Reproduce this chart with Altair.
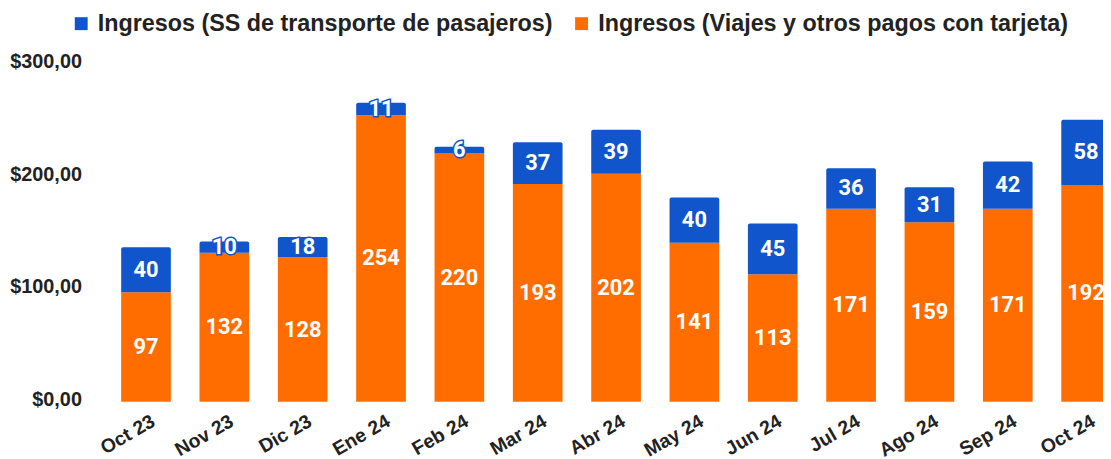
import altair as alt
import pandas as pd

months = ["Oct 23", "Nov 23", "Dic 23", "Ene 24", "Feb 24", "Mar 24", "Abr 24",
          "May 24", "Jun 24", "Jul 24", "Ago 24", "Sep 24", "Oct 24"]
viajes = [97, 132, 128, 254, 220, 193, 202, 141, 113, 171, 159, 171, 192]
ss = [40, 10, 18, 11, 6, 37, 39, 40, 45, 36, 31, 42, 58]

S_SS = "Ingresos (SS de transporte de pasajeros)"
S_VI = "Ingresos (Viajes y otros pagos con tarjeta)"
BLUE = "#1155CC"
ORANGE = "#FF6D01"

rows = []
for m, v, s in zip(months, viajes, ss):
    rows.append({"month": m, "series": S_VI, "value": v, "start": 0, "end": v})
    rows.append({"month": m, "series": S_SS, "value": s, "start": v, "end": v + s})
df = pd.DataFrame(rows)
df["mid"] = (df["start"] + df["end"]) / 2

x = alt.X("month:N", sort=months,
          scale=alt.Scale(range=[0, 1009], paddingInner=0.366, paddingOuter=0.076),
          axis=alt.Axis(title=None, labelAngle=-30, labelFont="Liberation Sans",
                        labelFontSize=19.5, labelFontWeight="bold", labelColor="#222222",
                        domain=False, ticks=False, labelPadding=10, labelOffset=3))
y = alt.Y("start:Q", scale=alt.Scale(domain=[0, 300], nice=False),
          axis=alt.Axis(title=None, values=[0, 100, 200, 300],
                        labelExpr="'$' + datum.value + ',00'",
                        labelFont="Liberation Sans", labelFontSize=20,
                        labelFontWeight="bold", labelColor="#222222",
                        domain=False, ticks=False, grid=False, labelPadding=34,
                        labelOffset=-2))
color = alt.Color("series:N",
                  scale=alt.Scale(domain=[S_SS, S_VI], range=[BLUE, ORANGE]),
                  legend=alt.Legend(title=None, orient="none", legendX=-46, legendY=-52,
                                    direction="horizontal", symbolType="square",
                                    symbolSize=169, symbolStrokeWidth=0,
                                    labelFont="Liberation Sans", labelFontSize=23.5,
                                    labelFontWeight="bold", labelColor="#222222",
                                    labelOffset=5, columnPadding=17, padding=0,
                                    labelLimit=1000))

base = alt.Chart(df)

bars_or = base.transform_filter(alt.datum.series == S_VI).mark_bar().encode(
    x=x, y=y, y2="end:Q", color=color)
bars_bl = base.transform_filter(alt.datum.series == S_SS).mark_bar(
    cornerRadiusTopLeft=2, cornerRadiusTopRight=2).encode(
    x=x, y=y, y2="end:Q", color=color)

txt_y = alt.Y("mid:Q")
outline = base.transform_filter(alt.datum.series == S_SS).mark_text(
    font="Roboto", fontSize=22, fontWeight="bold", fill="white", stroke=BLUE,
    strokeWidth=3, baseline="middle").encode(x=x, y=txt_y, text="value:Q")
labels = base.mark_text(
    font="Roboto", fontSize=22, fontWeight="bold", color="white",
    baseline="middle").encode(x=x, y=txt_y, text="value:Q")

chart = alt.layer(bars_or, bars_bl, outline, labels).properties(
    width=995, height=341,
    autosize=alt.AutoSizeParams(type="none"),
    padding={"left": 108, "top": 54, "right": 0, "bottom": 56},
).configure_view(strokeWidth=0)

chart.save("out.html", embed_options={"renderer": "svg", "actions": False})
